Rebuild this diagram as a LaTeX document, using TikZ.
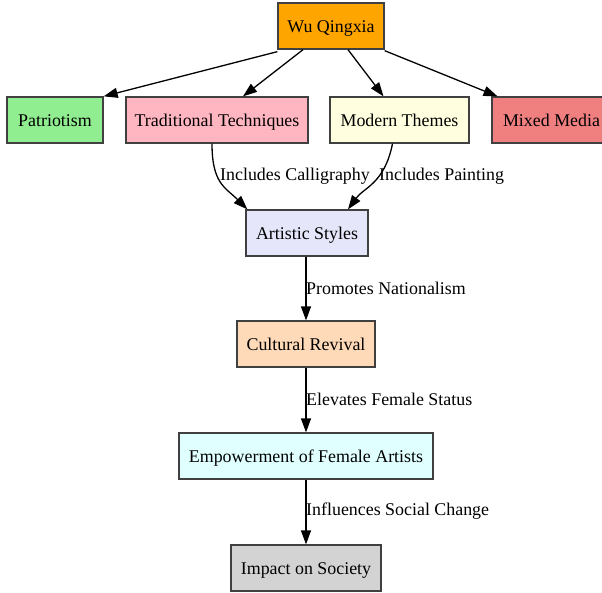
\documentclass[tikz,border=0pt]{standalone}
\usepackage{fontspec}
\setmainfont{Liberation Serif}
\usetikzlibrary{arrows.meta}
\definecolor{bord}{HTML}{404040}
\definecolor{corange}{HTML}{FFA500}
\definecolor{cgreen}{HTML}{90EE90}
\definecolor{cpink}{HTML}{FFB6C1}
\definecolor{cyellow}{HTML}{FFFFE0}
\definecolor{ccoral}{HTML}{F08080}
\definecolor{clav}{HTML}{E6E6FA}
\definecolor{cpeach}{HTML}{FFDAB9}
\definecolor{ccyan}{HTML}{E0FFFF}
\definecolor{cgray}{HTML}{D3D3D3}
\begin{document}
\begin{tikzpicture}[x=1pt,y=-1pt,
  box/.style={draw=bord,line width=1.3pt,rectangle,minimum height=46pt,inner xsep=2pt,
    text height=14pt,text depth=2pt,
    font=\fontsize{17.9}{21}\selectfont,text=black},
  edge/.style={draw=black,line width=1.3pt,-{Triangle[length=14pt,width=10pt]}},
  lbl/.style={font=\fontsize{17.9}{21}\selectfont,anchor=west,inner sep=0pt}]
\useasboundingbox (0,0) rectangle (602,592);
\begin{scope}
\clip (0,0) rectangle (602,592);
\node[box,fill=corange,minimum width=106pt] (wu) at (331,26) {Wu Qingxia};
\node[box,fill=cgreen,minimum width=96pt] (pat) at (55,120) {Patriotism};
\node[box,fill=cpink,minimum width=182pt] (trad) at (217,120) {Traditional Techniques};
\node[box,fill=cyellow,minimum width=139pt] (mod) at (399.5,120) {Modern Themes};
\node[box,fill=ccoral,minimum width=119pt] (mix) at (551.5,120) {Mixed Media};
\node[box,fill=clav,minimum width=122pt] (art) at (307,233) {Artistic Styles};
\node[box,fill=cpeach,minimum width=138pt] (cul) at (306,344) {Cultural Revival};
\node[box,fill=ccyan,minimum width=254pt] (emp) at (306,456) {Empowerment of Female Artists};
\node[box,fill=cgray,minimum width=150pt] (imp) at (306,568) {Impact on Society};
\end{scope}
\draw[edge] ([yshift=-2pt]wu.south west) -- (pat.north east);
\draw[edge] ([xshift=-28pt]wu.south) -- ([xshift=26pt]trad.north);
\draw[edge] ([xshift=17pt]wu.south) -- ([xshift=-16pt]mod.north);
\draw[edge] ([yshift=-1pt]wu.south east) -- ([xshift=-54pt]mix.north);
\draw[edge] ([xshift=-5pt]trad.south) .. controls +(0,40) and +(-22,-22) .. ([xshift=2pt]art.north west);
\draw[edge] ([xshift=-7pt]mod.south) .. controls +(-8,40) and +(16,-22) .. ([xshift=41pt]art.north);
\draw[edge] ([xshift=-1pt]art.south) -- (cul.north);
\draw[edge] (cul.south) -- (emp.north);
\draw[edge] (emp.south) -- (imp.north);
\node[lbl] (l1) at (220,176) {Includes Calligraphy};
\node[lbl] (l2) at (379,176) {Includes Painting};
\node[lbl] (l3) at (306,288) {Promotes Nationalism};
\node[lbl] (l4) at (306,399) {Elevates Female Status};
\node[lbl] (l5) at (306,511) {Influences Social Change};
\end{tikzpicture}
\end{document}
